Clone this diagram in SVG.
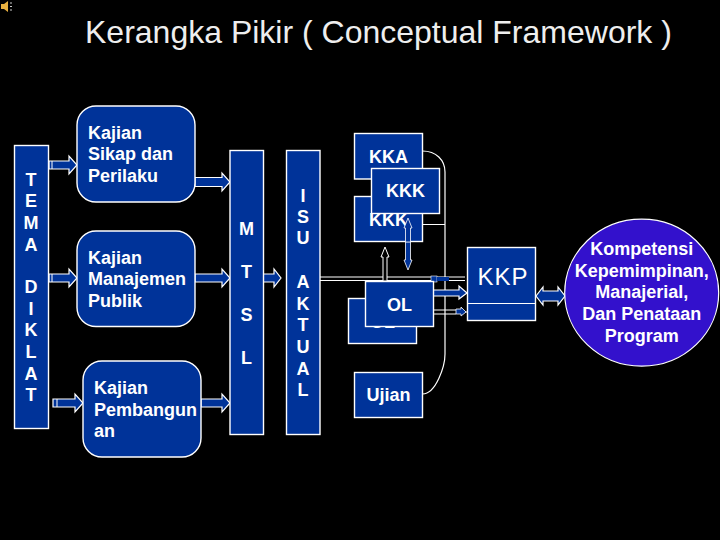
<svg xmlns="http://www.w3.org/2000/svg" width="720" height="540" viewBox="0 0 720 540">
<style>
text{font-family:"Liberation Sans",Arial,sans-serif;font-weight:700;font-size:18px;fill:#fff}
.m{text-anchor:middle}
.n{fill:#003399;stroke:#fff;stroke-width:1.4}
.a{fill:#003399;stroke:#fff;stroke-width:1.2}
.t{fill:#003399;stroke:#fff;stroke-width:.8}
.l{fill:none;stroke:#fff;stroke-width:1.2}
</style>
<rect width="720" height="540" fill="#000"/>
<g id="icon"><path d="M1 4h3l4-3v11l-4-3H1z" fill="#e8b040"/><path d="M10 3h2M10 6.500h2M10 10h2" stroke="#ccc" stroke-width="1"/></g>
<text id="title" x="85" y="43" style="font-weight:400;font-size:32px;fill:#eee">Kerangka Pikir ( Conceptual Framework )</text>
<g id="connectors">
<path class="l" d="M422.500 151C436 151 445 160 445 172V354C445 366 436 394 422.500 394M422.500 224.500H445"/>
<path class="a" d="M49 161H69V156L77 165L69 174V169H49Z"/>
<path d="M52 161V169" stroke="#fff"/>
<path class="a" d="M195 177.500H222V173L230 182L222 191V186.500H195Z"/>
<path class="a" d="M49 274H69V269L77 278L69 287V282H49Z"/>
<path d="M52 274V282" stroke="#fff"/>
<path class="a" d="M195 274H222V269L230 278L222 287V282H195Z"/>
<path class="a" d="M53 399H75V394L83 403L75 412V407H53Z"/>
<path d="M57 399V407" stroke="#fff"/>
<path class="a" d="M201 399H222V394L230 403L222 412V407H201Z"/>
<path class="a" d="M263 274H274V269L281 278L274 287V282H263Z"/>
<path d="M320 277H465M320 280.500H465" stroke="#fff" stroke-width="1.100"/>
<rect x="431" y="276" width="6" height="6" fill="#003399" stroke="#fff" stroke-width=".6"/>
<rect x="437" y="277" width="12" height="4" fill="#003399"/>
<path d="M383 281V257H381L385 247L389 257H387V281Z" fill="#000" stroke="#fff" stroke-width="1"/>
<path class="t" d="M405.500 260V228H404L408 218L412 228H410.500V260H412L408 270L404 260Z"/>
<path class="a" d="M433 290H459V286L467 293L459 299V296H433Z"/>
<path class="l" d="M433 310H456M433 314H456M461 312H467"/>
<path class="t" d="M456 309H461V307L466 312L461 316V314H456Z"/>
<path class="a" d="M536 296L543 287V291H558V287L565 296L558 305V301H543V305Z"/>
</g>
<g id="tema"><rect class="n" x="14.500" y="145.500" width="34" height="283"/>
<text class="m" x="31" y="186">T</text><text class="m" x="31" y="207">E</text><text class="m" x="31" y="229">M</text><text class="m" x="31" y="251">A</text><text class="m" x="31" y="293">D</text><text class="m" x="31" y="315">I</text><text class="m" x="31" y="336">K</text><text class="m" x="31" y="358">L</text><text class="m" x="31" y="380">A</text><text class="m" x="31" y="401">T</text></g>
<g id="kajian-sikap"><rect class="n" x="77" y="106" width="118" height="96" rx="19"/>
<text x="88" y="139">Kajian</text><text x="88" y="160">Sikap dan</text><text x="88" y="182">Perilaku</text></g>
<g id="kajian-manajemen"><rect class="n" x="77" y="231" width="118" height="95.500" rx="19"/>
<text x="88" y="264">Kajian</text><text x="88" y="285">Manajemen</text><text x="88" y="307">Publik</text></g>
<g id="kajian-pembangunan"><rect class="n" x="83" y="361" width="118" height="96" rx="19"/>
<text x="94" y="394">Kajian</text><text x="94" y="416">Pembangun</text><text x="94" y="437">an</text></g>
<g id="mtsl"><rect class="n" x="230" y="150.500" width="33.500" height="284"/>
<text class="m" x="246.500" y="235">M</text><text class="m" x="246.500" y="278">T</text><text class="m" x="246.500" y="321">S</text><text class="m" x="246.500" y="364">L</text></g>
<g id="isu-aktual"><rect class="n" x="286.500" y="150.500" width="33.500" height="284"/>
<text class="m" x="303" y="202">I</text><text class="m" x="303" y="223">S</text><text class="m" x="303" y="244">U</text><text class="m" x="303" y="288">A</text><text class="m" x="303" y="310">K</text><text class="m" x="303" y="331">T</text><text class="m" x="303" y="353">U</text><text class="m" x="303" y="375">A</text><text class="m" x="303" y="396">L</text></g>
<g id="kka"><rect class="n" x="354.500" y="133.500" width="68" height="45.500"/><text class="m" x="388.500" y="163">KKA</text></g>
<g id="kkk-back"><rect class="n" x="354.500" y="196.500" width="68" height="45"/><text class="m" x="388.500" y="226">KKK</text></g>
<g id="kkk-front"><rect class="n" x="371.500" y="168.500" width="68" height="45"/><text class="m" x="405.500" y="197">KKK</text></g>
<path class="t" d="M405.500 242V228H404L408 218L412 228H410.500V242Z"/>
<g id="ol-back"><rect class="n" x="348.500" y="298.500" width="68" height="45"/><text class="m" x="382.500" y="328">OL</text></g>
<g id="ol-front"><rect class="n" x="365.500" y="281.500" width="68" height="45"/><text class="m" x="399.500" y="311">OL</text></g>
<g id="ujian"><rect class="n" x="354.500" y="372.500" width="68" height="45"/><text class="m" x="388.500" y="401">Ujian</text></g>
<g id="kkp"><rect class="n" x="467.500" y="247.500" width="68" height="73"/><path class="l" d="M467.500 303.500H535.500"/><text class="m" x="503" y="285" style="font-weight:400;font-size:24px;letter-spacing:1px">KKP</text></g>
<g id="kompetensi"><ellipse cx="641.700" cy="292.700" rx="77" ry="73.500" fill="#3311cc" stroke="#fff" stroke-width="1.2"/>
<text class="m" x="641.700" y="255">Kompetensi</text><text class="m" x="641.700" y="277">Kepemimpinan,</text><text class="m" x="641.700" y="298">Manajerial,</text><text class="m" x="641.700" y="320">Dan Penataan</text><text class="m" x="641.700" y="342">Program</text></g>
</svg>
